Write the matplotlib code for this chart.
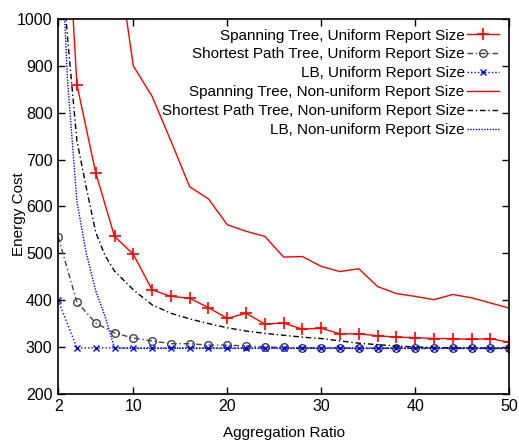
import matplotlib
matplotlib.use("Agg")
import matplotlib.pyplot as plt

plt.rcParams['font.family'] = ['Liberation Sans', 'DejaVu Sans']

x_even = list(range(2, 51, 2))
x_fine = [2, 3, 4, 5, 6, 7, 8] + list(range(10, 51, 2))

st_uniform = [1560, 860, 672, 536, 498, 422, 408, 404, 384, 361, 372, 349, 351,
              338, 340, 328, 328, 324, 321, 320, 318, 318, 316, 318, 310]
spt_uniform = [535, 396, 351, 330, 319, 313, 307, 307, 304, 304, 302, 300, 299,
               298, 298, 298, 297, 297, 297, 297, 297, 297, 297, 297, 297]
lb_uniform = [400] + [298] * 24

st_nonuniform = [2500, 1900, 1500, 1180, 900, 835, 740, 642, 616, 561, 547, 536, 492,
                 493, 472, 461, 467, 429, 414, 408, 401, 412, 405, 394, 383]
spt_nonuniform = [1230, 960, 740, 640, 545, 495, 462,
                  422, 390, 372, 360, 350, 341, 334, 329, 325, 321, 318, 313, 308,
                  305, 302, 300, 299, 298, 298, 297, 297]
lb_nonuniform = [1300, 870, 610, 500, 420, 365, 298] + [297] * 21

labels = ["Spanning Tree, Uniform Report Size",
          "Shortest Path Tree, Uniform Report Size",
          "LB, Uniform Report Size",
          "Spanning Tree, Non-uniform Report Size",
          "Shortest Path Tree, Non-uniform Report Size",
          "LB, Non-uniform Report Size"]

fs = 11

fig = plt.figure(figsize=(5.19, 4.43), dpi=100)
ax = fig.add_axes([0.112, 0.111, 0.869, 0.846])

lw = 1.0
ax.plot(x_even, st_uniform, color='#ff0000', lw=lw, marker='+', ms=8, mew=1.2, label=labels[0])
ax.plot(x_even, spt_uniform, color='#444444', lw=lw, ls=(0, (4, 2, 1, 2)), marker='o', ms=5.5,
        mfc='none', mew=1.0, label=labels[1])
ax.plot(x_even, lb_uniform, color='#0000ff', lw=lw, ls=(0, (1, 1.5)), marker='x', ms=5,
        mew=1.0, label=labels[2])
ax.plot(x_even, st_nonuniform, color='#ff0000', lw=lw, label=labels[3])
ax.plot(x_fine, spt_nonuniform, color='#000000', lw=lw, ls=(0, (4, 2, 1, 2)), label=labels[4])
ax.plot(x_fine, lb_nonuniform, color='#0000ff', lw=lw, ls=(0, (1, 1)), label=labels[5])

ax.set_xlim(2, 50)
ax.set_ylim(200, 1000)
ax.set_xticks([2, 10, 20, 30, 40, 50])
ax.set_yticks(range(200, 1001, 100))
ax.tick_params(direction='in', top=True, right=True, length=5, width=1, labelsize=fs + 0.5, pad=4)
for s in ax.spines.values():
    s.set_linewidth(1.2)

ax.set_xlabel("Aggregation Ratio", fontsize=fs)
ax.set_ylabel("Energy Cost", fontsize=fs)
ax.yaxis.set_label_coords(-0.071, 0.48)
ax.xaxis.set_label_coords(0.5, -0.085)

leg = ax.legend(loc='upper right', bbox_to_anchor=(0.998, 0.999), frameon=False,
                markerfirst=False, fontsize=fs, handlelength=2.1, handletextpad=0.15,
                labelspacing=0.32, borderaxespad=0.2)

fig.savefig("out.png", dpi=100)
